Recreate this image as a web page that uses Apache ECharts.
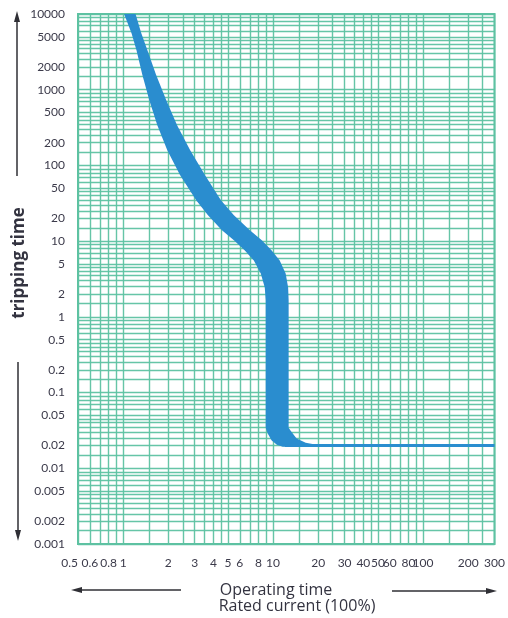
<!DOCTYPE html>
<html>
<head>
<meta charset="utf-8">
<script src="https://cdn.jsdelivr.net/npm/echarts@6/dist/echarts.min.js"></script>
<style>
  html, body { margin: 0; padding: 0; background: #ffffff; }
  #chart { width: 508px; height: 618px; }
</style>
</head>
<body>
<div id="chart"></div>
<script>
// Tick labels along each axis
const xTicks = [0.5, 0.6, 0.8, 1, 2, 3, 4, 5, 6, 8, 10, 20, 30, 40, 50, 60, 80, 100, 200, 300];
const xTickText = ['0.5', '0.6', '0.8', '1', '2', '3', '4', '5', '6', '8', '10', '20', '30', '40', '50', '60', '80', '100', '200', '300'];
const yTicks = [0.001, 0.002, 0.005, 0.01, 0.02, 0.05, 0.1, 0.2, 0.5, 1, 2, 5, 10, 20, 50, 100, 200, 500, 1000, 2000, 5000, 10000];
const yTickText = ['0.001', '0.002', '0.005', '0.01', '0.02', '0.05', '0.1', '0.2', '0.5', '1', '2', '5', '10', '20', '50', '100', '200', '500', '1000', '2000', '5000', '10000'];

// Ruling of the log paper
const xGrid = [0.5, 0.6, 0.7, 0.8, 0.9, 1, 1.5, 2, 2.5, 3, 3.5, 4, 4.5, 5, 6, 7, 8, 9,
  10, 15, 20, 25, 30, 35, 40, 45, 50, 60, 70, 80, 90, 100, 150, 200, 250, 300];
const decadeSteps = [1, 1.5, 2, 2.5, 3, 3.5, 4, 4.5, 5, 6, 7, 8, 9];
const yDecades = [0.001, 0.01, 0.1, 1, 10, 100, 1000];

// Tripping band: [multiple of rated current, time in s]
const bandLower = [
  [1.015, 10000], [1.136, 5610], [1.226, 3340], [1.344, 1560], [1.495, 728], [1.69, 340],
  [1.97, 159], [2.40, 74.2], [3.07, 34.7], [3.68, 21.9], [4.56, 13.9], [5.48, 10.25],
  [6.48, 7.55], [7.44, 5.57], [8.28, 3.75], [8.8, 2.45], [8.93, 1.65], [8.93, 0.0344],
  [9.21, 0.0287], [9.79, 0.0232], [10.6, 0.0205], [11.6, 0.0192]
];
const bandUpper = [
  [1.21, 10000], [1.32, 5610], [1.45, 3340], [1.66, 1560], [1.94, 728], [2.29, 340],
  [2.80, 159], [3.52, 74.2], [4.49, 34.7], [5.48, 21.9], [7.0, 13.9], [8.41, 10.25],
  [9.79, 7.55], [11.07, 5.57], [12.13, 3.75], [12.6, 2.45], [12.7, 1.65], [12.7, 0.0344],
  [13.1, 0.0314], [14.35, 0.0247], [16.5, 0.0218], [19.5, 0.0205], [22, 0.0192]
];
// Instantaneous trip level carried to the end of the range
const instantLine = [[12, 0.02], [300, 0.02]];

const gridColor = '#5ec2a2';
const bandColor = '#2a8dcf';
const textColor = '#3b3a4a';

function nearestText(v, ticks, texts) {
  let best = 0, bd = Infinity;
  ticks.forEach((t, i) => {
    const d = Math.abs(Math.log10(t) - Math.log10(v));
    if (d < bd) { bd = d; best = i; }
  });
  return texts[best];
}

const yGrid = [];
yDecades.forEach(d => decadeSteps.forEach(s => yGrid.push(+(d * s).toPrecision(6))));
yGrid.push(10000);

const gridLines = [];
xGrid.forEach(v => gridLines.push({ xAxis: v }));
yGrid.forEach(v => gridLines.push({ yAxis: v }));

const bandPolygon = bandLower.concat(bandUpper.slice().reverse());

const xLabelStyle = {
  margin: 13, fontFamily: 'Lato', fontSize: 12, color: textColor,
  showMinLabel: true, showMaxLabel: true,
  formatter: v => nearestText(v, xTicks, xTickText)
};

const chart = echarts.init(document.getElementById('chart'), null, { renderer: 'canvas' });

chart.setOption({
  animation: false,
  backgroundColor: '#ffffff',
  grid: {
    left: 78, right: 11, top: 14, bottom: 74,
    show: true, borderColor: gridColor, borderWidth: 2, backgroundColor: 'transparent'
  },
  xAxis: [
    {
      type: 'log', logBase: 10, min: 0.49999, max: 300,
      axisLine: { show: false }, axisTick: { show: false }, splitLine: { show: false },
      axisLabel: Object.assign({ customValues: xTicks.slice(1) }, xLabelStyle)
    },
    {
      // carries only the leftmost label, set against the left edge of the frame
      type: 'log', logBase: 10, min: 0.49999, max: 300, position: 'bottom',
      axisLine: { show: false }, axisTick: { show: false }, splitLine: { show: false },
      axisLabel: Object.assign({ customValues: xTicks.slice(0, 1), align: 'right' }, xLabelStyle)
    }
  ],
  yAxis: {
    type: 'log', logBase: 10, min: 0.001, max: 10000,
    axisLine: { show: false },
    axisTick: { show: false },
    splitLine: { show: false },
    axisLabel: {
      customValues: yTicks,
      showMinLabel: true, showMaxLabel: true,
      margin: 13,
      fontFamily: 'Lato', fontSize: 12, color: textColor,
      formatter: v => nearestText(v, yTicks, yTickText)
    }
  },
  series: [
    {
      type: 'line', data: [], z: 1, silent: true,
      markLine: {
        silent: true, symbol: 'none', z: 1, animation: false, precision: 10,
        label: { show: false },
        lineStyle: { color: gridColor, width: 1.4, type: 'solid', opacity: 0.95 },
        emphasis: { disabled: true },
        data: gridLines
      }
    },
    {
      type: 'custom', z: 10, clip: true, silent: true,
      data: [0],
      renderItem: (params, api) => ({
        type: 'polygon',
        shape: { points: bandPolygon.map(p => api.coord(p)) },
        style: { fill: bandColor }
      })
    },
    {
      type: 'line', z: 10, silent: true, symbol: 'none',
      data: instantLine,
      lineStyle: { color: bandColor, width: 3 }
    }
  ],
  graphic: [
    // vertical arrows beside the time axis
    { type: 'line', shape: { x1: 17, y1: 176, x2: 17, y2: 20 }, style: { stroke: '#2f2f35', lineWidth: 1.5 } },
    { type: 'polygon', shape: { points: [[17, 11], [14, 22], [20, 22]] }, style: { fill: '#2f2f35' } },
    { type: 'line', shape: { x1: 18, y1: 362, x2: 18, y2: 532 }, style: { stroke: '#2f2f35', lineWidth: 1.5 } },
    { type: 'polygon', shape: { points: [[18, 541], [15, 530], [21, 530]] }, style: { fill: '#2f2f35' } },
    // horizontal arrows under the current axis
    { type: 'line', shape: { x1: 80, y1: 590, x2: 181, y2: 590 }, style: { stroke: '#2f2f35', lineWidth: 1.5 } },
    { type: 'polygon', shape: { points: [[71, 590], [82, 587], [82, 593]] }, style: { fill: '#2f2f35' } },
    { type: 'line', shape: { x1: 392, y1: 591, x2: 488, y2: 591 }, style: { stroke: '#2f2f35', lineWidth: 1.5 } },
    { type: 'polygon', shape: { points: [[497, 591], [486, 588], [486, 594]] }, style: { fill: '#2f2f35' } },
    {
      type: 'text', x: 19, y: 263, rotation: Math.PI / 2,
      style: {
        text: 'tripping time', fill: '#333340', font: 'bold 17px "Open Sans"',
        textAlign: 'center', textVerticalAlign: 'middle'
      }
    },
    {
      type: 'text', x: 276, y: 590,
      style: { text: 'Operating time', fill: '#333340', font: '16px "Open Sans"', textAlign: 'center', textVerticalAlign: 'middle' }
    },
    {
      type: 'text', x: 297, y: 606,
      style: { text: 'Rated current (100%)', fill: '#333340', font: '16px "Open Sans"', textAlign: 'center', textVerticalAlign: 'middle' }
    }
  ]
});
</script>
</body>
</html>
